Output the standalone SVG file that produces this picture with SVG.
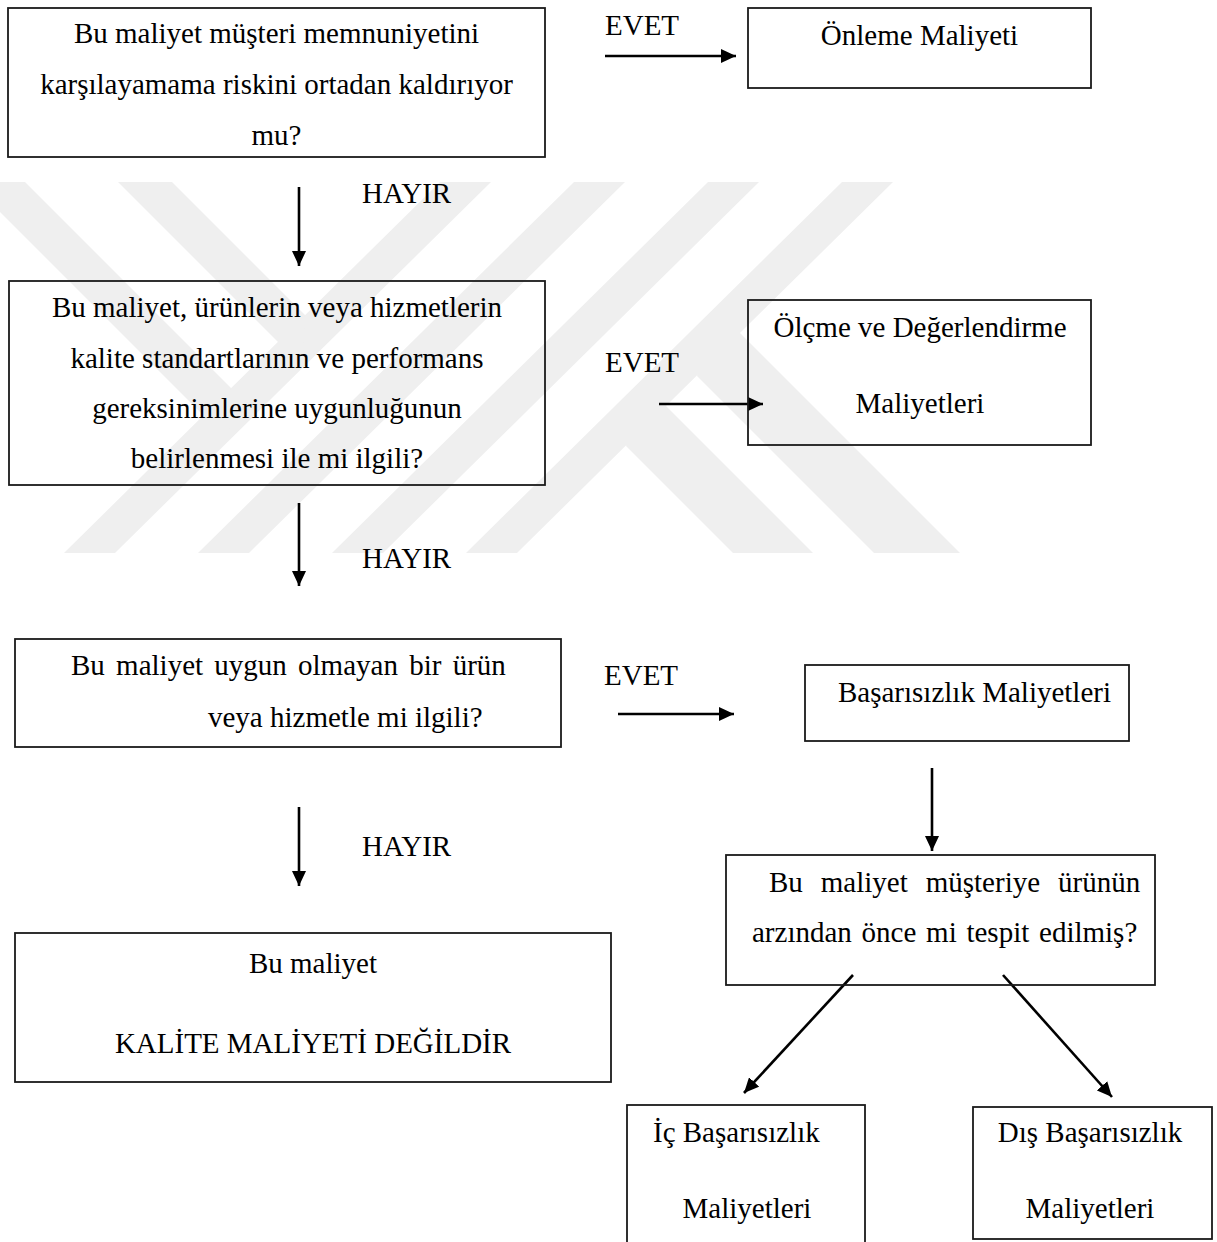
<svg xmlns="http://www.w3.org/2000/svg" width="1217" height="1242" viewBox="0 0 1217 1242">
  <style>
    .box { fill: none; stroke: #1a1a1a; stroke-width: 1.8; }
    .t { font-family: "Liberation Serif", "Times New Roman", serif; font-size: 29px; fill: #000; }
    .c { text-anchor: middle; }
    .arr { stroke: #000; stroke-width: 2.6; fill: none; marker-end: url(#ah); }
    .wm { fill: #efefef; }
  </style>
  <defs>
    <marker id="ah" markerUnits="userSpaceOnUse" markerWidth="15" markerHeight="14" refX="15" refY="7" orient="auto">
      <path d="M0,0 L15,7 L0,14 z" fill="#000"/>
    </marker>
  </defs>
  <rect width="1217" height="1242" fill="#fff"/>

  <g id="watermark">
    <polygon class="wm" points="440,182 491,182 115,553 64,553"/>
    <polygon class="wm" points="574,182 625,182 249,553 198,553"/>
    <polygon class="wm" points="708,182 759,182 383,553 332,553"/>
    <polygon class="wm" points="842,182 893,182 517,553 466,553"/>
    <polygon class="wm" points="-30,182 25,182 231,388 229,441"/>
    <polygon class="wm" points="118,182 172,182 305,315 303,367"/>
    <polygon class="wm" points="715,308 960,553 874,553 697,376"/>
    <polygon class="wm" points="641,381 813,553 733,553 626,446"/>
  </g>

  <g id="connectors">
    <line class="arr" x1="605" y1="56" x2="736" y2="56"/>
    <line class="arr" x1="299" y1="187" x2="299" y2="266"/>
    <line class="arr" x1="659" y1="404" x2="763" y2="404"/>
    <line class="arr" x1="299" y1="503" x2="299" y2="586"/>
    <line class="arr" x1="618" y1="714" x2="734" y2="714"/>
    <line class="arr" x1="299" y1="807" x2="299" y2="886"/>
    <line class="arr" x1="932" y1="768" x2="932" y2="851"/>
    <line class="arr" x1="853" y1="975" x2="744" y2="1093"/>
    <line class="arr" x1="1003" y1="975" x2="1112" y2="1097"/>
  </g>

  <g id="labels">
    <text class="t" x="605" y="35">EVET</text>
    <text class="t" x="362" y="203">HAYIR</text>
    <text class="t" x="605" y="372">EVET</text>
    <text class="t" x="362" y="568">HAYIR</text>
    <text class="t" x="604" y="685">EVET</text>
    <text class="t" x="362" y="856">HAYIR</text>
  </g>

  <g id="q1">
    <rect class="box" x="8" y="8" width="537" height="149"/>
    <text class="t c" x="276.5" y="43">Bu maliyet müşteri memnuniyetini</text>
    <text class="t c" x="276.5" y="94">karşılayamama riskini ortadan kaldırıyor</text>
    <text class="t c" x="276.5" y="145">mu?</text>
  </g>

  <g id="onleme">
    <rect class="box" x="748" y="8" width="343" height="80"/>
    <text class="t c" x="919.5" y="45">Önleme Maliyeti</text>
  </g>

  <g id="q2">
    <rect class="box" x="9" y="281" width="536" height="204"/>
    <text class="t c" x="277" y="317">Bu maliyet, ürünlerin veya hizmetlerin</text>
    <text class="t c" x="277" y="368">kalite standartlarının ve performans</text>
    <text class="t c" x="277" y="418">gereksinimlerine uygunluğunun</text>
    <text class="t c" x="277" y="468">belirlenmesi ile mi ilgili?</text>
  </g>

  <g id="olcme">
    <rect class="box" x="748" y="300" width="343" height="145"/>
    <text class="t c" x="920" y="337">Ölçme ve Değerlendirme</text>
    <text class="t c" x="920" y="413">Maliyetleri</text>
  </g>

  <g id="q3">
    <rect class="box" x="15" y="639" width="546" height="108"/>
    <text class="t" x="71" y="675" word-spacing="4">Bu maliyet uygun olmayan bir ürün</text>
    <text class="t" x="208" y="727">veya hizmetle mi ilgili?</text>
  </g>

  <g id="basarisizlik">
    <rect class="box" x="805" y="665" width="324" height="76"/>
    <text class="t" x="838" y="702">Başarısızlık Maliyetleri</text>
  </g>

  <g id="q4">
    <rect class="box" x="726" y="855" width="429" height="130"/>
    <text class="t" x="769" y="892" word-spacing="10.7">Bu maliyet müşteriye ürünün</text>
    <text class="t" x="752" y="942" word-spacing="2.5">arzından önce mi tespit edilmiş?</text>
  </g>

  <g id="degil">
    <rect class="box" x="15" y="933" width="596" height="149"/>
    <text class="t c" x="313" y="973">Bu maliyet</text>
    <text class="t c" x="313" y="1053">KALİTE MALİYETİ DEĞİLDİR</text>
  </g>

  <g id="ic">
    <rect class="box" x="627" y="1105" width="238" height="140"/>
    <text class="t" x="653" y="1142">İç Başarısızlık</text>
    <text class="t c" x="747" y="1218">Maliyetleri</text>
  </g>

  <g id="dis">
    <rect class="box" x="973" y="1107" width="239" height="132"/>
    <text class="t c" x="1090" y="1142">Dış Başarısızlık</text>
    <text class="t c" x="1090" y="1218">Maliyetleri</text>
  </g>
</svg>
